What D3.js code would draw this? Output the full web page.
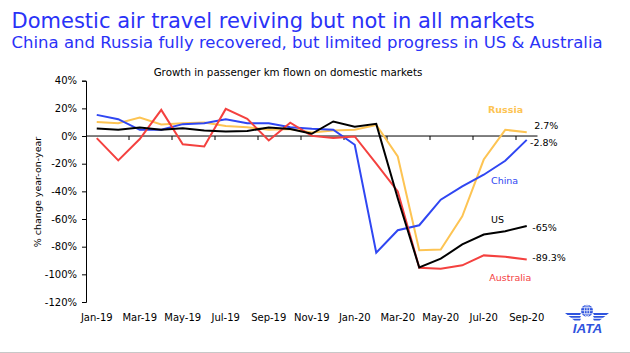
<!DOCTYPE html>
<meta charset="utf-8">
<style>
  body { margin: 0; background: #fff; }
  svg text { font-family: 'DejaVu Sans', sans-serif; }
</style>
<svg width="630" height="353"></svg>
<script src="https://d3js.org/d3.v7.min.js"></script>
<script>
// passenger km growth, % year-on-year, Jan-19 .. Sep-20
var months = ["Jan-19","Feb-19","Mar-19","Apr-19","May-19","Jun-19","Jul-19","Aug-19","Sep-19","Oct-19","Nov-19","Dec-19",
              "Jan-20","Feb-20","Mar-20","Apr-20","May-20","Jun-20","Jul-20","Aug-20","Sep-20"];
var tickLabels = ["Jan-19","Mar-19","May-19","Jul-19","Sep-19","Nov-19","Jan-20","Mar-20","May-20","Jul-20","Sep-20"];
var yTicks = [40, 20, 0, -20, -40, -60, -80, -100, -120];

var china     = [15.3, 12.2, 4.5, 4.5, 8.6, 9.3, 12.2, 9.3, 9.3, 6.4, 5.2, 4.5, -6.3, -84.4, -68.1, -64.5, -46, -36.4, -28, -17.9, -2.8];
var russia    = [10.2, 9.3, 13.3, 8.3, 9.3, 9.7, 7.3, 6.4, 4.5, 5.0, 2.5, 4.0, 4.5, 8.0, -14.8, -82.5, -82, -58, -17, 4.5, 2.7];
var us        = [5.4, 4.5, 6.1, 4.5, 5.7, 4.0, 3.2, 3.7, 6.1, 5.0, 1.6, 10.5, 6.8, 8.8, -45, -95, -88.7, -78.4, -71.2, -68.8, -65];
var australia = [-1.5, -17.6, -2.2, 18.9, -5.9, -7.5, 19.6, 12.4, -3.2, 9.7, 0.1, -1.5, -0.3, -20, -40, -95.2, -95.9, -93.5, -86.3, -87.3, -89.3];

var series = [
  {name: "Russia", values: russia, color: "#fdc453"},
  {name: "China", values: china, color: "#2f46f2"},
  {name: "Australia", values: australia, color: "#f4413f"},
  {name: "US", values: us, color: "#000"}
];

var svg = d3.select("svg"),
    margin = {top: 80.7, left: 86},
    width = 451.5,
    height = 221.3,
    g = svg.append("g").attr("transform", "translate(" + margin.left + "," + margin.top + ")");

var titleBlue = "#2a32f7";

svg.append("text")
    .attr("x", 11.5).attr("y", 28)
    .attr("fill", titleBlue)
    .style("font-size", "21px")
    .text("Domestic air travel reviving but not in all markets");

svg.append("text")
    .attr("x", 11.5).attr("y", 48)
    .attr("fill", titleBlue)
    .style("font-size", "16.5px")
    .text("China and Russia fully recovered, but limited progress in US & Australia");

svg.append("text")
    .attr("x", 288).attr("y", 76)
    .attr("text-anchor", "middle")
    .style("font-size", "10.3px")
    .text("Growth in passenger km flown on domestic markets");

var x = d3.scaleBand()
    .domain(months)
    .range([0, width]);

var y = d3.scaleLinear()
    .domain([-120, 40])
    .range([height, 0]);

var cx = function(i) { return x(months[i]) + x.bandwidth() / 2; };

// y axis
var yAxis = g.append("g")
    .call(d3.axisLeft(y).tickValues(yTicks).tickSize(4).tickPadding(5)
      .tickFormat(function(d) { return d + "%"; }));
yAxis.attr("font-family", null).attr("font-size", null);
yAxis.selectAll("text").style("font-size", "10px");

svg.append("text")
    .attr("transform", "translate(41,192) rotate(-90)")
    .attr("text-anchor", "middle")
    .style("font-size", "9.5px")
    .text("% change year-on-year");

// zero line with ticks between every second month
g.append("line")
    .attr("x1", 0).attr("x2", width)
    .attr("y1", y(0)).attr("y2", y(0))
    .attr("stroke", "#000");

g.selectAll(".zt")
    .data(tickLabels.slice(1))
  .enter().append("line")
    .attr("x1", function(d) { return x(d); })
    .attr("x2", function(d) { return x(d); })
    .attr("y1", y(0)).attr("y2", y(0) + 4)
    .attr("stroke", "#000");

// month labels below the plot
var xAxis = g.append("g")
    .attr("transform", "translate(0," + height + ")")
    .call(d3.axisBottom(x).tickValues(tickLabels).tickSize(0).tickPadding(12));
xAxis.select(".domain").remove();
xAxis.attr("font-family", null).attr("font-size", null);
xAxis.selectAll("text").style("font-size", "10px");

var line = d3.line()
    .x(function(d, i) { return cx(i); })
    .y(function(d) { return y(d); });

g.selectAll(".series")
    .data(series)
  .enter().append("path")
    .attr("fill", "none")
    .attr("stroke", function(d) { return d.color; })
    .attr("stroke-width", 2)
    .attr("stroke-linejoin", "miter")
    .attr("d", function(d) { return line(d.values); });

// series names
var names = [
  {text: "Russia", x: 402, y: 32.8, color: "#fdc453", bold: true},
  {text: "China", x: 405, y: 103.3, color: "#2f46f2"},
  {text: "US", x: 405, y: 142, color: "#000"},
  {text: "Australia", x: 403.3, y: 200, color: "#f4413f"}
];
g.selectAll(".nm")
    .data(names)
  .enter().append("text")
    .attr("x", function(d) { return d.x; })
    .attr("y", function(d) { return d.y; })
    .attr("fill", function(d) { return d.color; })
    .style("font-size", "9.5px")
    .style("font-weight", function(d) { return d.bold ? "bold" : null; })
    .text(function(d) { return d.text; });

// end values
var last = months.length - 1;
var ends = [
  {text: "2.7%", v: russia[last], dx: 7.5, dy: -3.5},
  {text: "-2.8%", v: china[last], dx: 3.3, dy: 6.6},
  {text: "-65%", v: us[last], dx: 5.5, dy: 4.6},
  {text: "-89.3%", v: australia[last], dx: 5.5, dy: 1}
];
g.selectAll(".end")
    .data(ends)
  .enter().append("text")
    .attr("x", function(d) { return cx(last) + d.dx; })
    .attr("y", function(d) { return y(d.v) + d.dy; })
    .style("font-size", "9.5px")
    .text(function(d) { return d.text; });

// IATA logo
var logoBlue = "#2f54de";
var logo = svg.append("g").attr("transform", "translate(587,310.7)");
logo.append("circle").attr("r", 6).attr("fill", logoBlue);
logo.append("ellipse").attr("rx", 2.6).attr("ry", 6).attr("fill", "none").attr("stroke", "#fff").attr("stroke-width", 0.7);
logo.append("line").attr("x1", 0).attr("x2", 0).attr("y1", -6).attr("y2", 6).attr("stroke", "#fff").attr("stroke-width", 0.7);
[-3, 0, 3].forEach(function(h) {
  var w = Math.sqrt(36 - h * h);
  logo.append("line").attr("x1", -w).attr("x2", w).attr("y1", h).attr("y2", h)
      .attr("stroke", "#fff").attr("stroke-width", 0.7);
});
[[2.4, -22], [5.2, -18.5], [8, -15]].forEach(function(s) {
  var t = s[0], l = s[1];
  logo.append("path").attr("fill", logoBlue)
      .attr("d", "M" + l + "," + t + "L-6," + t + "L-7," + (t + 1.8) + "L" + (l + 2.5) + "," + (t + 1.8) + "Z");
  logo.append("path").attr("fill", logoBlue)
      .attr("d", "M" + (-l) + "," + t + "L6," + t + "L7," + (t + 1.8) + "L" + (-l - 2.5) + "," + (t + 1.8) + "Z");
});
logo.append("text")
    .attr("x", 0.5).attr("y", 22.6)
    .attr("text-anchor", "middle")
    .attr("fill", logoBlue)
    .style("font-family", "'Liberation Sans', Arial, sans-serif")
    .style("font-size", "13.5px")
    .style("font-weight", "bold")
    .style("font-style", "italic")
    .text("IATA");

svg.append("line")
    .attr("x1", 0).attr("x2", 630)
    .attr("y1", 352.5).attr("y2", 352.5)
    .attr("stroke", "#c8c8c8");
</script>
